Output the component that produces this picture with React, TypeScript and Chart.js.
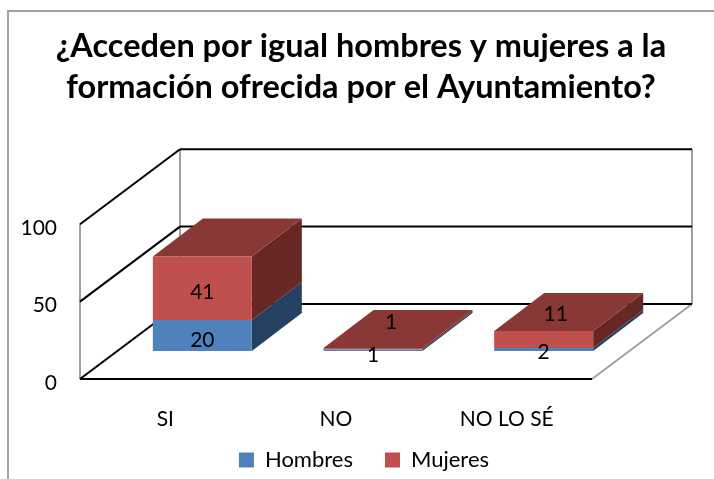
import React, { useEffect, useRef } from "react";
import { Chart, registerables } from "chart.js";

Chart.register(...registerables);

const categories = ["SI", "NO", "NO LO SÉ"];
const hombres = [20, 1, 2];
const mujeres = [41, 1, 11];
const titleLines = [
  "¿Acceden por igual hombres y mujeres a la",
  "formación ofrecida por el Ayuntamiento?",
];
const yTicks = [0, 50, 100];

const BLUE = "#4F81BD";
const RED = "#C0504D";
const RED_TOP = "#8A3836";
const RED_SIDE = "#662725";
const BLUE_SIDE = "#254061";
const GRAY = "#A0A0A0";
const FONT = "Lato, 'Open Sans', sans-serif";

// projection of the 3D box
const WALL_DX = 100;
const WALL_DY = -75;
const BAR_SHIFT_X = 37;
const BAR_SHIFT_Y = -28;
const BAR_DX = 50;
const BAR_DY = -38;

// per dataset, per category nudges of the data labels (dx, dy)
const labelNudges = [
  [[0, 5], [0, 5], [0, 3]],
  [[0, 4], [18, -26], [12, -25]],
];

function line(ctx: CanvasRenderingContext2D, x1: number, y1: number, x2: number, y2: number, color: string, w: number) {
  ctx.strokeStyle = color;
  ctx.lineWidth = w;
  ctx.beginPath();
  ctx.moveTo(x1, y1);
  ctx.lineTo(x2, y2);
  ctx.stroke();
}

function poly(ctx: CanvasRenderingContext2D, pts: number[][], color: string) {
  ctx.fillStyle = color;
  ctx.beginPath();
  pts.forEach((p, i) => (i ? ctx.lineTo(p[0], p[1]) : ctx.moveTo(p[0], p[1])));
  ctx.closePath();
  ctx.fill();
}

const frame = {
  id: "frame",
  afterLayout(chart: any) {
    // the legend and title sit a little off the default box positions
    chart.legend.top -= 18;
    chart.legend.left += 7;
    chart.legend.right += 7;
    chart.titleBlock.left += 4;
    chart.titleBlock.right += 4;
  },
  beforeDraw(chart: any) {
    const ctx = chart.ctx;
    ctx.save();
    line(ctx, 8, 11, 8, 479, GRAY, 2);
    line(ctx, 7, 11, 714, 11, GRAY, 2);
    ctx.restore();
  },
};

const box3d = {
  id: "box3d",
  beforeDatasetsDraw(chart: any) {
    const ctx = chart.ctx;
    const { x, y } = chart.scales;
    const L = x.left;
    const R = x.right;
    const y0 = y.getPixelForValue(0);
    const yTop = y.getPixelForValue(100);
    ctx.save();
    // gray structural edges
    line(ctx, L, y0, L, yTop, GRAY, 2);
    line(ctx, L + WALL_DX, y0 + WALL_DY, L + WALL_DX, yTop + WALL_DY, GRAY, 2);
    line(ctx, R + WALL_DX, y0 + WALL_DY, R + WALL_DX, yTop + WALL_DY, GRAY, 2);
    line(ctx, R, y0, R + WALL_DX, y0 + WALL_DY, GRAY, 2);
    // gridlines on side and back walls
    yTicks.forEach((v) => {
      const p = y.getPixelForValue(v);
      line(ctx, L, p, L + WALL_DX, p + WALL_DY, "#000", 2);
      line(ctx, L + WALL_DX, p + WALL_DY, R + WALL_DX, p + WALL_DY, "#000", 2);
    });
    line(ctx, L, y0, R, y0, "#000", 2);

    // shifted into the depth of the box: side and top faces, fronts follow from Chart.js
    ctx.translate(BAR_SHIFT_X, BAR_SHIFT_Y);
    const n = chart.data.datasets.length;
    categories.forEach((_, i) => {
      for (let d = 0; d < n; d++) {
        const el = chart.getDatasetMeta(d).data[i];
        const r = el.x + el.width / 2;
        const l = el.x - el.width / 2;
        const top = el.y;
        const base = el.base;
        poly(ctx, [[r, top], [r + BAR_DX, top + BAR_DY], [r + BAR_DX, base + BAR_DY], [r, base]], d === 0 ? BLUE_SIDE : RED_SIDE);
        if (d === n - 1) {
          poly(ctx, [[l, top], [l + BAR_DX, top + BAR_DY], [r + BAR_DX, top + BAR_DY], [r, top]], RED_TOP);
        }
      }
    });
  },
  afterDatasetsDraw(chart: any) {
    const ctx = chart.ctx;
    ctx.restore();
    ctx.save();
    ctx.fillStyle = "#000";
    ctx.font = `21px ${FONT}`;
    ctx.textAlign = "center";
    ctx.textBaseline = "middle";
    chart.data.datasets.forEach((ds: any, d: number) => {
      chart.getDatasetMeta(d).data.forEach((el: any, i: number) => {
        const [nx, ny] = labelNudges[d][i];
        ctx.fillText(String(ds.data[i]), el.x + BAR_SHIFT_X + nx, (el.y + el.base) / 2 + BAR_SHIFT_Y + ny);
      });
    });
    ctx.restore();
  },
};

export default function App() {
  const ref = useRef<HTMLCanvasElement>(null);
  useEffect(() => {
    document.body.style.margin = "0";
    const chart = new Chart(ref.current as HTMLCanvasElement, {
      type: "bar",
      data: {
        labels: categories,
        datasets: [
          { label: "Hombres", data: hombres, backgroundColor: BLUE, stack: "a", clip: false } as any,
          { label: "Mujeres", data: mujeres, backgroundColor: RED, stack: "a", clip: false } as any,
        ],
      },
      options: {
        responsive: false,
        animation: false,
        events: [],
        layout: { padding: { left: 0, right: 0, top: 0, bottom: -20 } },
        datasets: { bar: { categoryPercentage: 0.58, barPercentage: 1 } },
        scales: {
          x: {
            stacked: true,
            grid: { display: false, drawTicks: false },
            border: { display: false },
            ticks: { color: "#000", font: { family: FONT, size: 21 }, padding: 28 },
            afterFit: (s: any) => { s.height = 56; },
          },
          y: {
            stacked: true,
            min: 0,
            max: 100,
            grid: { display: false, drawTicks: false },
            border: { display: false },
            afterBuildTicks: (s: any) => { s.ticks = yTicks.map((value) => ({ value })); },
            ticks: { color: "#000", font: { family: FONT, size: 21 }, padding: 23, labelOffset: 4 },
            afterFit: (s: any) => { s.width = 80; },
          },
          depthSpace: {
            type: "linear",
            position: "right",
            display: true,
            grid: { display: false, drawTicks: false },
            border: { display: false },
            ticks: { display: false },
            afterFit: (s: any) => { s.width = 122; },
          },
        },
        plugins: {
          title: {
            display: true,
            text: titleLines,
            color: "#000",
            font: { family: FONT, size: 32.5, weight: "bold", lineHeight: 1.265 },
            padding: { top: 26, bottom: 116 },
            align: "center",
            fullSize: true,
          },
          legend: {
            position: "bottom",
            labels: { color: "#000", font: { family: FONT, size: 22 }, boxWidth: 15, boxHeight: 15, padding: 32 },
          },
          tooltip: { enabled: false },
        },
      },
      plugins: [frame, box3d],
    } as any);
    return () => chart.destroy();
  }, []);
  return (
    <div style={{ width: 714, height: 479, background: "#fff" }}>
      <canvas ref={ref} width={714} height={479} style={{ display: "block" }} />
    </div>
  );
}
